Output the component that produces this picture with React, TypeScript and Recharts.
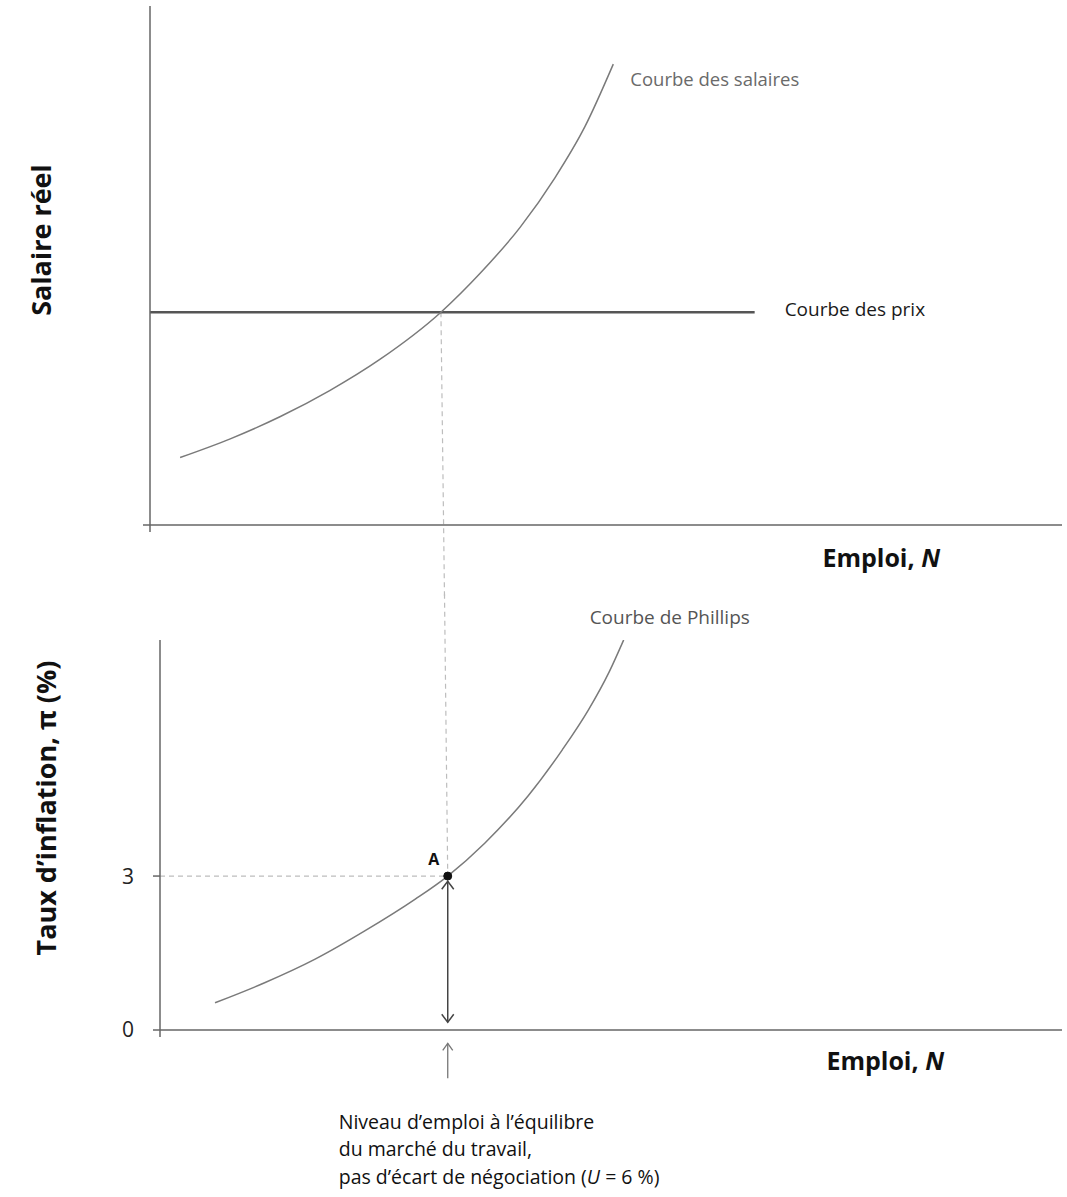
import React from 'react';
import { LineChart, Line, XAxis, YAxis, ReferenceLine, ReferenceDot } from 'recharts';

// ---- Data ----
// Top panel: wage-setting curve (employment N, real wage W), price-setting line
const wageEmployment = [3.3, 8.8, 14.3, 19.7, 25.2, 31.9, 36.2, 40.6, 44.4, 47.7, 50.8];
const wageLevels = [13.0, 16.6, 20.9, 25.9, 31.9, 41.0, 48.5, 57.4, 66.9, 76.8, 88.8];
const priceEmployment = [0, 66.3];
const priceLevel = 41.0;

// Bottom panel: Phillips curve (employment N, inflation pi %)
const phillipsEmployment = [6.1, 11.6, 17.2, 22.7, 28.3, 31.9, 36.0, 40.8, 44.6, 47.5, 49.8, 51.4];
const phillipsInflation = [0.53, 0.92, 1.38, 1.93, 2.55, 3.0, 3.64, 4.56, 5.46, 6.24, 6.98, 7.6];

const equilibriumEmployment = 31.9;
const equilibriumInflation = 3;
const inflationTicks = [0, 3];

const employmentDomain: [number, number] = [0, 100];
const wageDomain: [number, number] = [0, 100];
const inflationDomain: [number, number] = [0, 7.6];

// Texts
const wageLabel = 'Courbe des salaires';
const priceLabel = 'Courbe des prix';
const phillipsLabel = 'Courbe de Phillips';
const topYTitle = 'Salaire réel';
const bottomYTitle = 'Taux d’inflation, π (%)';
const captionLines = ['Niveau d’emploi à l’équilibre', 'du marché du travail,'];

// ---- Tables built from arrays ----
const wageData = wageEmployment.map((n, i) => ({ n, w: wageLevels[i] }));
const priceData = priceEmployment.map((n) => ({ n, w: priceLevel }));
const phillipsData = phillipsEmployment.map((n, i) => ({ n, p: phillipsInflation[i] }));

const FONT = '"Open Sans", "DejaVu Sans", sans-serif';
const AXIS = '#666';
const CURVE = '#7a7a7a';
const DASH = '#bdbdbd';

const rotatedTitle = (text: string, dx: number, dy: number) => (props: any) => {
  const vb = props.viewBox || {};
  const x = vb.x + dx;
  const y = vb.y + dy;
  return (
    <text
      x={x}
      y={y}
      transform={`rotate(-90, ${x}, ${y})`}
      textAnchor="middle"
      dominantBaseline="central"
      fontFamily={FONT}
      fontWeight={700}
      fontSize={27}
      fill="#111"
    >
      {text}
    </text>
  );
};

const emploiTitle = (rightInset: number, dy: number) => (props: any) => {
  const vb = props.viewBox || {};
  return (
    <text
      x={vb.x + vb.width - rightInset}
      y={vb.y + dy}
      textAnchor="end"
      dominantBaseline="central"
      fontFamily={FONT}
      fontWeight={700}
      fontSize={25}
      fill="#111"
    >
      Emploi, <tspan fontStyle="italic">N</tspan>
    </text>
  );
};

const curveText = (text: string, dx: number, dy: number, fill: string, size: number) => (props: any) => {
  const vb = props.viewBox || {};
  return (
    <text
      x={vb.x + dx}
      y={vb.y + dy}
      dominantBaseline="central"
      fontFamily={FONT}
      fontSize={size}
      fill={fill}
    >
      {text}
    </text>
  );
};

const pointText = (props: any) => {
  const vb = props.viewBox || {};
  const cx = vb.x + (vb.width || 0) / 2;
  const cy = vb.y + (vb.height || 0) / 2;
  return (
    <text x={cx - 14} y={cy - 17} textAnchor="middle" dominantBaseline="central" fontFamily={FONT} fontWeight={700} fontSize={16} fill="#111">
      A
    </text>
  );
};

const DoubleArrow = (p: any) => {
  const x = p.x1;
  const top = Math.min(p.y1, p.y2);
  const bottom = Math.max(p.y1, p.y2);
  return (
    <g>
      <line x1={x} y1={top} x2={x} y2={bottom} stroke="#444" strokeWidth={1.5} />
      <path d={`M${x - 6},${top + 8} L${x},${top} L${x + 6},${top + 8}`} fill="none" stroke="#444" strokeWidth={1.5} />
      <path d={`M${x - 6},${bottom - 8} L${x},${bottom} L${x + 6},${bottom - 8}`} fill="none" stroke="#444" strokeWidth={1.5} />
    </g>
  );
};

const UpArrowWithCaption = (p: any) => {
  const x = p.x1;
  const top = Math.min(p.y1, p.y2);
  const bottom = Math.max(p.y1, p.y2);
  const tx = x - 109;
  return (
    <g>
      <line x1={x} y1={top} x2={x} y2={bottom} stroke="#777" strokeWidth={1.3} />
      <path d={`M${x - 5},${top + 7} L${x},${top} L${x + 5},${top + 7}`} fill="none" stroke="#777" strokeWidth={1.3} />
      <g fontFamily={FONT} fontSize={19.5} fill="#111">
        <text x={tx} y={bottom + 51}>{captionLines[0]}</text>
        <text x={tx} y={bottom + 78}>{captionLines[1]}</text>
        <text x={tx} y={bottom + 106}>
          pas d’écart de négociation (<tspan fontStyle="italic">U</tspan> = 6 %)
        </text>
      </g>
    </g>
  );
};

export default function App() {
  return (
    <div style={{ position: 'relative', width: 1067, height: 1197, background: '#fff', fontFamily: FONT, overflow: 'hidden' }}>
      <style>{'body{margin:0;background:#fff;}'}</style>

      {/* Top panel */}
      <div style={{ position: 'absolute', left: 0, top: 0 }}>
        <LineChart width={1067} height={600} margin={{ top: 6, right: 5, bottom: 0, left: 0 }}>
          <XAxis
            type="number"
            dataKey="n"
            domain={employmentDomain}
            allowDataOverflow
            ticks={[0]}
            tickFormatter={() => ''}
            tickSize={7}
            height={75}
            axisLine={{ stroke: AXIS, strokeWidth: 1.5 }}
            tickLine={{ stroke: AXIS, strokeWidth: 1.5 }}
            label={emploiTitle(122, 32)}
          />
          <YAxis
            type="number"
            domain={wageDomain}
            allowDataOverflow
            ticks={[0]}
            tickFormatter={() => ''}
            tickSize={7}
            width={150}
            axisLine={{ stroke: AXIS, strokeWidth: 1.5 }}
            tickLine={{ stroke: AXIS, strokeWidth: 1.5 }}
            label={rotatedTitle(topYTitle, 40, 234)}
          />
          <ReferenceLine
            segment={[{ x: equilibriumEmployment, y: priceLevel }, { x: 32.29, y: -13.7 }]}
            stroke={DASH}
            strokeWidth={1.2}
            strokeDasharray="5 4"
            ifOverflow="visible"
          />
          <Line data={priceData} dataKey="w" type="linear" stroke="#555" strokeWidth={2.5} dot={false} isAnimationActive={false} />
          <Line data={wageData} dataKey="w" type="monotone" stroke={CURVE} strokeWidth={1.5} dot={false} isAnimationActive={false} />
          <ReferenceDot
            x={wageEmployment[wageEmployment.length - 1]}
            y={wageLevels[wageLevels.length - 1]}
            r={0}
            fill="none"
            stroke="none"
            label={curveText(wageLabel, 17, 14, '#6a6a6a', 18.5)}
          />
          <ReferenceDot
            x={priceEmployment[1]}
            y={priceLevel}
            r={0}
            fill="none"
            stroke="none"
            label={curveText(priceLabel, 30, -3, '#1a1a1a', 19)}
          />
        </LineChart>
      </div>

      {/* Bottom panel */}
      <div style={{ position: 'absolute', left: 0, top: 590 }}>
        <LineChart width={1067} height={607} margin={{ top: 50, right: 5, bottom: 0, left: 0 }}>
          <XAxis
            type="number"
            dataKey="n"
            domain={employmentDomain}
            allowDataOverflow
            ticks={[0]}
            tickFormatter={() => ''}
            tickSize={7}
            height={167}
            axisLine={{ stroke: AXIS, strokeWidth: 1.5 }}
            tickLine={{ stroke: AXIS, strokeWidth: 1.5 }}
            label={emploiTitle(118, 30)}
          />
          <YAxis
            type="number"
            domain={inflationDomain}
            allowDataOverflow
            ticks={inflationTicks}
            tickSize={7}
            tickMargin={19}
            width={160}
            axisLine={{ stroke: AXIS, strokeWidth: 1.5 }}
            tickLine={{ stroke: AXIS, strokeWidth: 1.5 }}
            tick={{ fontSize: 21, fill: '#222', fontFamily: FONT }}
            label={rotatedTitle(bottomYTitle, 45, 168)}
          />
          <ReferenceLine
            segment={[{ x: 31.54, y: 8.5 }, { x: equilibriumEmployment, y: equilibriumInflation }]}
            stroke={DASH}
            strokeWidth={1.2}
            strokeDasharray="5 4"
            ifOverflow="visible"
          />
          <ReferenceLine
            segment={[{ x: 0, y: equilibriumInflation }, { x: equilibriumEmployment, y: equilibriumInflation }]}
            stroke={DASH}
            strokeWidth={1.2}
            strokeDasharray="5 4"
            ifOverflow="visible"
          />
          <Line data={phillipsData} dataKey="p" type="monotone" stroke={CURVE} strokeWidth={1.5} dot={false} isAnimationActive={false} />
          <ReferenceLine
            segment={[{ x: equilibriumEmployment, y: 2.9 }, { x: equilibriumEmployment, y: 0.15 }]}
            ifOverflow="visible"
            shape={DoubleArrow}
          />
          <ReferenceLine
            segment={[{ x: equilibriumEmployment, y: -0.26 }, { x: equilibriumEmployment, y: -0.94 }]}
            ifOverflow="visible"
            shape={UpArrowWithCaption}
          />
          <ReferenceDot
            x={equilibriumEmployment}
            y={equilibriumInflation}
            r={4}
            fill="#111"
            stroke="#111"
            label={pointText}
          />
          <ReferenceDot
            x={phillipsEmployment[phillipsEmployment.length - 1]}
            y={phillipsInflation[phillipsInflation.length - 1]}
            r={0}
            fill="none"
            stroke="none"
            label={curveText(phillipsLabel, -34, -23, '#555', 19)}
          />
        </LineChart>
      </div>
    </div>
  );
}
